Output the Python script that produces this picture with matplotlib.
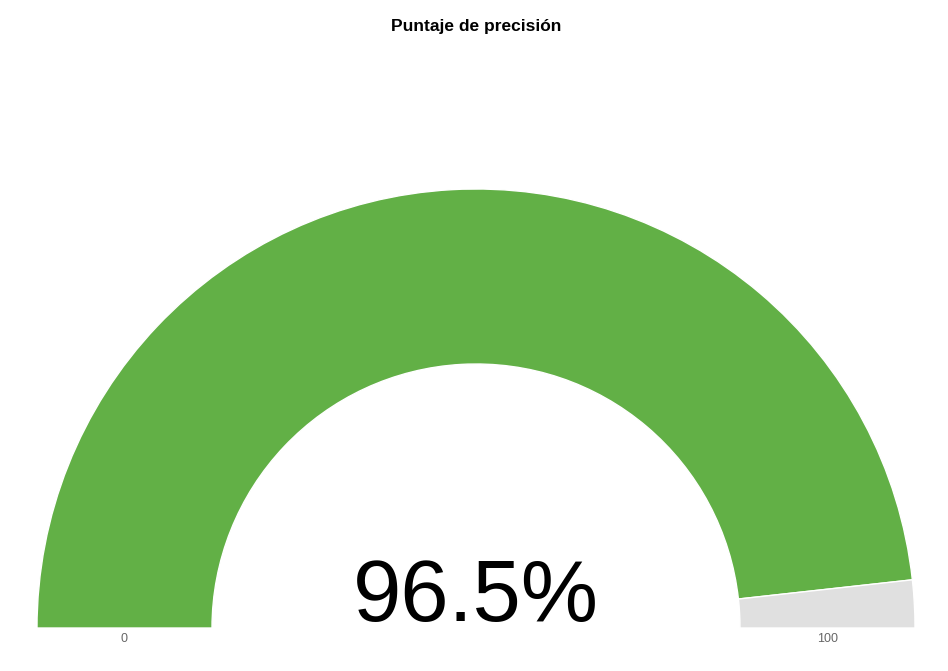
import matplotlib
matplotlib.use("Agg")
import matplotlib.pyplot as plt
from matplotlib.patches import Wedge

plt.rcParams['font.family'] = ['Liberation Sans', 'DejaVu Sans']

# gauge data
TITLE = "Puntaje de precisión"
value = 96.5
gauge_min = 0
gauge_max = 100
colors = ["#62b046", "#e0e0e0"]

W, H = 948, 671
fig = plt.figure(figsize=(W / 100, H / 100), dpi=100)
ax = fig.add_axes([0, 0, 1, 1])
ax.set_xlim(0, W)
ax.set_ylim(0, H)
ax.axis('off')

cx, cy = 476, H - 628
r_out, r_in = 439, 264

frac = (value - gauge_min) / (gauge_max - gauge_min)
split = 180 * (1 - frac)
ax.add_patch(Wedge((cx, cy), r_out, split, 180, width=r_out - r_in,
                   facecolor=colors[0], edgecolor='white', linewidth=1))
ax.add_patch(Wedge((cx, cy), r_out, 0, split, width=r_out - r_in,
                   facecolor=colors[1], edgecolor='white', linewidth=1))

ax.text(cx, H - 27, TITLE, ha='center', va='center', fontsize=12.5,
        fontweight='bold', color='black')
ax.text(cx, H - 621, f"{value}%", ha='center', va='baseline', fontsize=62.5,
        color='black')
mid = (r_out + r_in) / 2
ax.text(cx - mid, H - 639, str(gauge_min), ha='center', va='center',
        fontsize=9, color='#666666')
ax.text(cx + mid, H - 639, str(gauge_max), ha='center', va='center',
        fontsize=9, color='#666666')

fig.savefig("out.png", dpi=100)
